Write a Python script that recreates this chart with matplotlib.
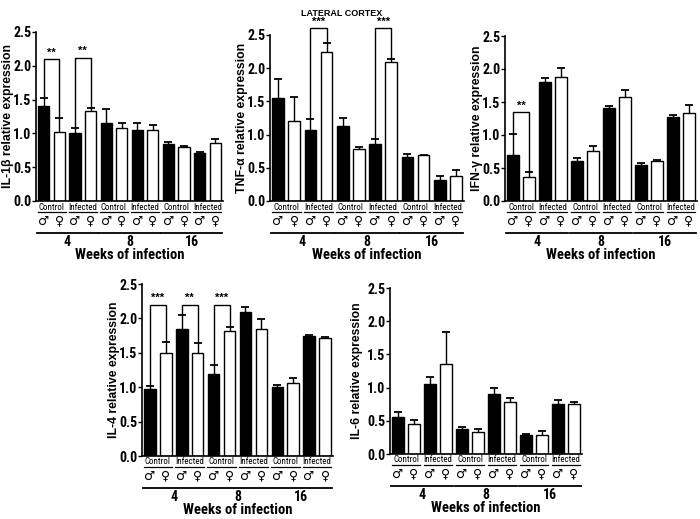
import numpy as np
import matplotlib
matplotlib.use('Agg')
import matplotlib.pyplot as plt
import matplotlib.transforms as mtransforms

# Data: 12 bars per panel
# order: wk4 ctrl M/F, wk4 inf M/F, wk8 ctrl M/F, wk8 inf M/F, wk16 ctrl M/F, wk16 inf M/F
weeks = ['4', '8', '16']
groups = ['Control', 'Infected']
sexes = ['\u2642', '\u2640']

il1b_mean = [1.40, 1.02, 1.00, 1.33, 1.16, 1.08, 1.05, 1.05, 0.84, 0.80, 0.71, 0.86]
il1b_err = [0.13, 0.21, 0.08, 0.05, 0.20, 0.07, 0.10, 0.08, 0.04, 0.02, 0.02, 0.05]
tnf_mean = [1.55, 1.21, 1.07, 2.25, 1.13, 0.79, 0.86, 2.09, 0.67, 0.69, 0.31, 0.38]
tnf_err = [0.28, 0.35, 0.17, 0.13, 0.12, 0.02, 0.08, 0.05, 0.04, 0.01, 0.06, 0.09]
ifn_mean = [0.69, 0.36, 1.81, 1.88, 0.61, 0.76, 1.41, 1.57, 0.55, 0.60, 1.27, 1.34]
ifn_err = [0.33, 0.08, 0.06, 0.14, 0.04, 0.07, 0.03, 0.11, 0.02, 0.02, 0.03, 0.11]
il4_mean = [0.98, 1.50, 1.85, 1.49, 1.19, 1.82, 2.10, 1.84, 1.00, 1.06, 1.74, 1.72]
il4_err = [0.04, 0.16, 0.20, 0.15, 0.13, 0.06, 0.07, 0.15, 0.03, 0.07, 0.02, 0.01]
il6_mean = [0.55, 0.45, 1.05, 1.36, 0.38, 0.33, 0.90, 0.79, 0.28, 0.29, 0.76, 0.76]
il6_err = [0.09, 0.06, 0.11, 0.48, 0.03, 0.05, 0.10, 0.06, 0.02, 0.06, 0.05, 0.02]

# significance brackets: (bar a, bar b, height, label)
il1b_sig = [(0, 1, 2.10, '**'), (2, 3, 2.12, '**')]
tnf_sig = [(2, 3, 2.60, '***'), (6, 7, 2.60, '***')]
ifn_sig = [(0, 1, 1.35, '**')]
il4_sig = [(0, 1, 2.20, '***'), (2, 3, 2.20, '**'), (4, 5, 2.20, '***')]
il6_sig = []

plt.rcParams['font.family'] = ['Liberation Sans', 'DejaVu Sans']
cond = ['Roboto Condensed', 'Liberation Sans Narrow', 'Liberation Sans', 'DejaVu Sans']

fig = plt.figure(figsize=(7, 5.19), dpi=100)
W, H = 700, 519


def px_axes(x0, ytop, x1, ybot):
    return fig.add_axes([x0 / W, 1 - ybot / H, (x1 - x0) / W, (ybot - ytop) / H])


def below(ax, dy):
    # x in data coords, y = axis bottom minus dy pixels
    return ax.get_xaxis_transform() + mtransforms.ScaledTranslation(0, -dy / 100, fig.dpi_scale_trans)


def draw_panel(ax, means, errs, ylabel, sig, label_off):
    x = np.arange(12)
    colors = ['black', 'white'] * 6
    ax.bar(x, means, width=0.72, color=colors, edgecolor='black', linewidth=1, zorder=2)
    eb = ax.errorbar(x, means, yerr=[np.zeros(12), errs], fmt='none', ecolor='black',
                     elinewidth=1, capsize=3, capthick=1.3, zorder=1)
    eb[1][0].set_visible(False)  # hide lower caps
    ax.set_xlim(-0.5, 11.5)
    ax.set_ylim(0, 2.5)
    ax.set_yticks([0, 0.5, 1.0, 1.5, 2.0, 2.5])
    ax.set_yticklabels(['0.0', '0.5', '1.0', '1.5', '2.0', '2.5'], fontsize=10,
                       fontweight='bold', family=cond)
    ax.set_xticks([])
    ax.tick_params(axis='y', length=3, width=1, pad=0.5)
    for s in ['top', 'right']:
        ax.spines[s].set_visible(False)
    ax.spines['left'].set_linewidth(1.2)
    ax.spines['bottom'].set_linewidth(1.2)
    ax.set_ylabel(ylabel, fontsize=8.8, fontweight='bold')
    axw = ax.get_position().width * W
    ax.yaxis.set_label_coords(-label_off / axw, 0.5)

    # group labels, sex symbols, week lines
    for k in range(6):
        xc = 2 * k + 0.5
        ax.text(xc, 0, groups[k % 2], transform=below(ax, 6), ha='center', va='center',
                fontsize=6.5, family=cond)
        ax.plot([xc - 0.9, xc + 0.9], [0, 0], transform=below(ax, 11), color='black', lw=0.9,
                clip_on=False)
        for j in range(2):
            ax.text(2 * k + j, 0, sexes[j], transform=below(ax, 20), ha='center', va='center',
                    fontsize=9, family=['DejaVu Sans'])
    for w in range(3):
        xs = 4 * w
        ax.plot([xs - 0.45, xs + 3.45], [0, 0], transform=below(ax, 32), color='black', lw=1.3,
                clip_on=False)
        ax.text(xs + 1.5, 0, weeks[w], transform=below(ax, 41), ha='center', va='center',
                fontsize=10, fontweight='bold', family=cond)
    ax.text(5.5, 0, 'Weeks of infection', transform=below(ax, 54), ha='center', va='center',
            fontsize=10.5, fontweight='bold', family=cond)

    # significance brackets
    for a, b, h, lab in sig:
        ax.plot([a, a, b, b], [means[a] + errs[a], h, h, means[b] + errs[b]], color='black',
                lw=1, clip_on=False)
        ax.text((a + b) / 2, h + 0.02, lab, ha='center', va='bottom', fontsize=8,
                fontweight='bold', clip_on=False)


ax1 = px_axes(36, 32, 223, 201)
draw_panel(ax1, il1b_mean, il1b_err, 'IL-1\u03b2 relative expression', il1b_sig, 22)
ax2 = px_axes(270, 35, 464, 201)
draw_panel(ax2, tnf_mean, tnf_err, 'TNF-\u03b1 relative expression', tnf_sig, 22)
ax3 = px_axes(505, 36, 697, 201)
draw_panel(ax3, ifn_mean, ifn_err, 'IFN-\u03b3 relative expression', ifn_sig, 22)
ax4 = px_axes(142, 284, 333, 456)
draw_panel(ax4, il4_mean, il4_err, 'IL-4 relative expression', il4_sig, 22)
ax5 = px_axes(390, 288, 582, 454)
draw_panel(ax5, il6_mean, il6_err, 'IL-6 relative expression', il6_sig, 27)

fig.text(342 / W, 1 - 13 / H, 'LATERAL CORTEX', ha='center', va='center', fontsize=6.5,
         fontweight='bold')

fig.savefig('out.png', dpi=100)
